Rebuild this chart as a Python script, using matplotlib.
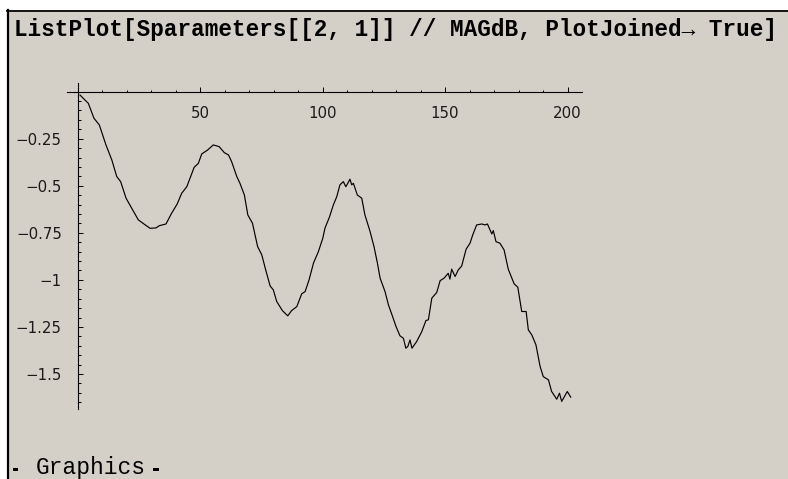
import matplotlib
matplotlib.use("Agg")
import matplotlib.pyplot as plt
from matplotlib.patches import Rectangle
from matplotlib.lines import Line2D
from matplotlib.ticker import FixedLocator, FixedFormatter

# S21 magnitude in dB against sample index
sample = [1, 4.4, 6.7, 8.9, 11.6, 14, 16, 17.6, 19.8, 22.1, 24.8, 27.1, 29.6, 32,
          33.4, 36.1, 38.4, 40.7, 42.5, 44.6, 47.6,
          49.3, 50.7, 53.1, 55.4, 57.8, 59.9, 61.6, 62.9, 65, 66.3, 68.1, 69.5,
          71.4, 73.5, 75.2, 76.8, 78.6, 79.9, 81.3, 83.6, 85.8, 87.4, 89.5,
          91.5, 92.9, 94.5, 96.3, 98.3,
          100.1, 101, 102.8, 104.4, 105.8, 107.1, 108.5, 109.5, 110.3, 111.2,
          111.9, 112.6, 114.2, 116, 117.3, 119.4, 121, 122.4, 123.5, 125.5,
          126.9, 128.6, 130, 131.6, 133, 134, 134.8, 135.7, 136.5, 138.4,
          140.5, 142.2, 143.2, 144.6, 146.6,
          148, 149.6, 151.3, 152, 152.7, 154.1, 155.4, 156.8, 158.6, 160.2,
          161.3, 162.9, 165, 166.3, 167.3, 169.1, 169.7, 170.8, 172.4, 174.1,
          175.8, 178.2, 179.7, 181.3, 183.1, 184, 185.4, 187.1, 188.8, 190.1,
          192.2, 193.5, 195.6, 196.7, 197.6, 199.9, 201.3]
mag_db = [-0.018, -0.062, -0.141, -0.177, -0.283, -0.363, -0.451, -0.478,
          -0.566, -0.619, -0.681, -0.703, -0.726, -0.724, -0.712, -0.703,
          -0.646, -0.596, -0.540, -0.505, -0.402,
          -0.381, -0.331, -0.310, -0.283, -0.292, -0.324, -0.336, -0.372,
          -0.451, -0.487, -0.549, -0.655, -0.699, -0.823, -0.867, -0.947,
          -1.032, -1.053, -1.115, -1.163, -1.191, -1.163, -1.142, -1.074,
          -1.062, -1.000, -0.911, -0.850,
          -0.779, -0.725, -0.667, -0.602, -0.558, -0.495, -0.478, -0.505,
          -0.487, -0.465, -0.495, -0.487, -0.549, -0.566, -0.655, -0.743,
          -0.823, -0.911, -0.991, -1.062, -1.133, -1.195, -1.248, -1.297,
          -1.310, -1.363, -1.354, -1.319, -1.363, -1.328, -1.275, -1.216,
          -1.212, -1.097, -1.067,
          -1.004, -0.991, -0.965, -0.996, -0.943, -0.982, -0.947, -0.926,
          -0.837, -0.805, -0.761, -0.708, -0.703, -0.708, -0.703, -0.756,
          -0.738, -0.797, -0.805, -0.841, -0.943, -1.021, -1.039, -1.168,
          -1.168, -1.266, -1.292, -1.345, -1.460, -1.514, -1.531, -1.593,
          -1.634, -1.602, -1.646, -1.593, -1.623]

x_ticks = [50, 100, 150, 200]
x_minor = [10, 20, 30, 40, 60, 70, 80, 90, 110, 120, 130, 140, 160, 170, 180, 190]
y_ticks = [-0.25, -0.5, -0.75, -1, -1.25, -1.5]
y_labels = ["\u22120.25", "\u22120.5", "\u22120.75", "\u22121", "\u22121.25", "\u22121.5"]
y_minor = [-0.05 * k for k in range(1, 34) if k % 5 != 0]

title = "ListPlot[Sparameters[[2, 1]] // MAGdB, PlotJoined\u2192 True]"
footer = "Graphics"

W, H = 788, 479
NB_GRAY = "#d4d0c8"


def fx(px):
    return px / W


def fy(py):
    return 1 - py / H


fig = plt.figure(figsize=(W / 100, H / 100), dpi=100, facecolor="white")

# notebook cell background and its bracket edges
fig.add_artist(Rectangle((fx(9), 0), 1 - fx(9), fy(11.5), transform=fig.transFigure,
                         facecolor=NB_GRAY, edgecolor="none", zorder=0))
fig.add_artist(Line2D([fx(7), 1], [fy(10.6), fy(10.6)], transform=fig.transFigure,
                      color="black", lw=1.3))
fig.add_artist(Line2D([fx(8.3), fx(8.3)], [fy(10), 0], transform=fig.transFigure,
                      color="black", lw=1.6))

mono = ["Liberation Mono", "DejaVu Sans Mono"]
fig.text(fx(13.5), fy(36), title, fontsize=16.3, fontweight="bold", family=mono,
         ha="left", va="baseline")

# output line: "- Graphics -" with heavy dashes on either side
fig.text(fx(35.5), fy(474), footer, fontsize=16.5, family=mono,
         ha="left", va="baseline")
for left_px in (12.5, 153):
    fig.add_artist(Rectangle((fx(left_px), fy(471)), 5.5 / W, 3.5 / H,
                             transform=fig.transFigure,
                             facecolor="black", edgecolor="none"))

ax = fig.add_axes([fx(67), fy(409), (582 - 67) / W, (409 - 83) / H])
ax.patch.set_visible(False)
ax.plot(sample, mag_db, color="black", lw=0.85)
ax.set_xlim(-4.3, 205.9)
ax.set_ylim(-1.686, 0.046)

for side in ("top", "right"):
    ax.spines[side].set_visible(False)
ax.spines["left"].set_position(("data", 0))
ax.spines["bottom"].set_position(("data", 0))
for side in ("left", "bottom"):
    ax.spines[side].set_linewidth(0.8)

ax.xaxis.set_major_locator(FixedLocator(x_ticks))
ax.xaxis.set_major_formatter(FixedFormatter([str(v) for v in x_ticks]))
ax.xaxis.set_minor_locator(FixedLocator(x_minor))
ax.yaxis.set_major_locator(FixedLocator(y_ticks))
ax.yaxis.set_major_formatter(FixedFormatter(y_labels))
ax.yaxis.set_minor_locator(FixedLocator(y_minor))

ax.tick_params(which="both", direction="in", width=0.7, color="black")
ax.tick_params(which="major", length=3.3)
ax.tick_params(which="minor", length=1.8)
ax.tick_params(axis="x", which="major", pad=10.3, labelsize=10.8)
ax.tick_params(axis="y", which="major", pad=11.3, labelsize=10.8)
for lab in ax.get_xticklabels() + ax.get_yticklabels():
    lab.set_family("DejaVu Sans")
    lab.set_color("#1a1a1a")

fig.savefig("out.png", dpi=100, facecolor="white")
